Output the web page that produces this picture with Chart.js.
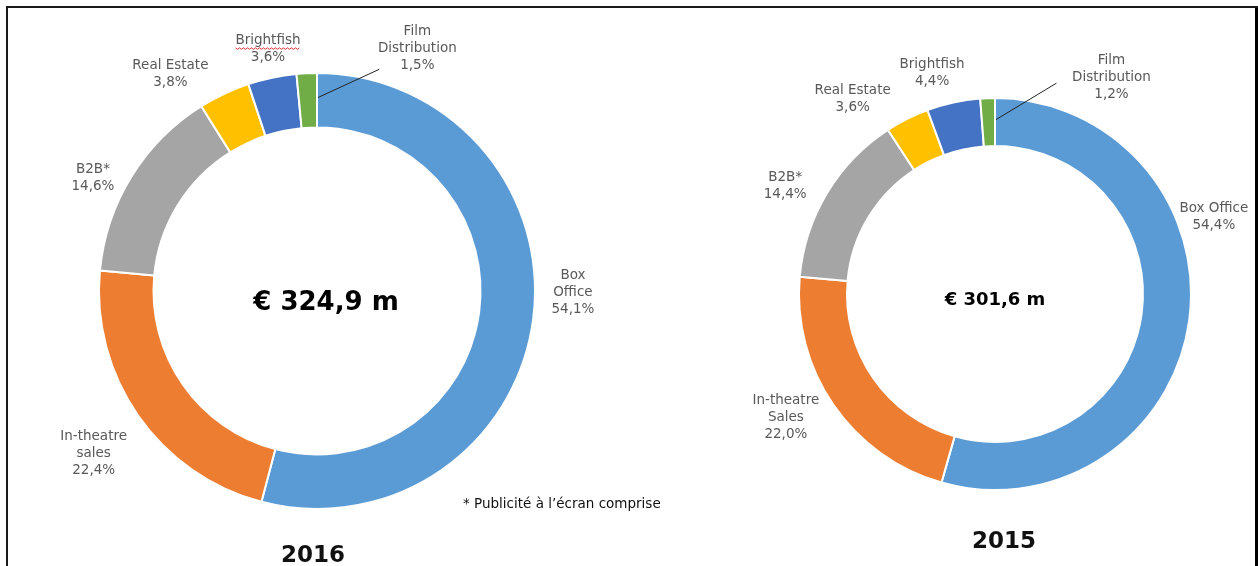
<!DOCTYPE html>
<html>
<head>
<meta charset="utf-8">
<script src="https://cdn.jsdelivr.net/npm/chart.js@4"></script>
<style>
	body { margin: 0; background: #fff; font-family: 'DejaVu Sans', sans-serif; }
	#page { position: relative; width: 1258px; height: 566px; overflow: hidden; background: #fff; }
	.box { position: absolute; top: 0; height: 566px; }
	.frame-top { position: absolute; left: 6px; top: 6px; width: 1252px; height: 2px; background: #1a1a1a; }
	.frame-left { position: absolute; left: 6px; top: 6px; width: 2px; height: 560px; background: #1a1a1a; }
	.frame-right { position: absolute; left: 1255px; top: 8px; width: 3px; height: 558px; background: #000; }
	.year { position: absolute; font-weight: bold; font-size: 23px; color: #111; transform: translateX(-50%); }
	.note { position: absolute; font-size: 13.5px; color: #111; white-space: nowrap; }
</style>
</head>
<body>
<div id="page">
	<div class="box" style="left:0;width:634px"><canvas id="chart2016"></canvas></div>
	<div class="box" style="left:634px;width:624px"><canvas id="chart2015"></canvas></div>
	<div class="frame-top"></div>
	<div class="frame-left"></div>
	<div class="frame-right"></div>
	<div class="note" style="left:463px;top:495px">* Publicité à l’écran comprise</div>
	<div class="year" style="left:313px;top:541px">2016</div>
	<div class="year" style="left:1004px;top:527px">2015</div>
</div>
<script>
// data
const labels2016 = [['Box', 'Office'], ['In-theatre', 'sales'], ['B2B*'], ['Real Estate'], ['Brightfish'], ['Film', 'Distribution']];
const values2016 = [54.1, 22.4, 14.6, 3.8, 3.6, 1.5];
const total2016 = '€ 324,9 m';

const labels2015 = [['Box Office'], ['In-theatre', 'Sales'], ['B2B*'], ['Real Estate'], ['Brightfish'], ['Film', 'Distribution']];
const values2015 = [54.4, 22.0, 14.4, 3.6, 4.4, 1.2];
const total2015 = '€ 301,6 m';

const colors = ['#5B9BD5', '#ED7D31', '#A5A5A5', '#FFC000', '#4472C4', '#70AD47'];

// label nudges (px) relative to a point 30px outside each slice
const nudge2016 = [[10, -30], [-20, 21], [-13, 17], [-41, 7], [2, 1], [112, 5]];
const nudge2015 = [[-5, -108], [-23, -5], [-16, 8], [-41, 7], [-15, 0], [125, 9]];

const pct = (v) => v.toFixed(1).replace('.', ',') + '%';

// draws slice labels, leader line and the total in the hole
const donutLabels = {
	id: 'donutLabels',
	afterDatasetsDraw(chart, args, opts) {
		const ctx = chart.ctx;
		const meta = chart.getDatasetMeta(0);
		const values = chart.data.datasets[0].data;
		ctx.save();
		ctx.font = '13.5px "DejaVu Sans", sans-serif';
		ctx.textAlign = 'center';
		ctx.textBaseline = 'middle';
		let cx = 0, cy = 0;
		meta.data.forEach((arc, i) => {
			const p = arc.getProps(['x', 'y', 'startAngle', 'endAngle', 'outerRadius', 'innerRadius'], true);
			cx = p.x; cy = p.y;
			const mid = (p.startAngle + p.endAngle) / 2;
			const r = p.outerRadius + 30;
			const ax = p.x + Math.cos(mid) * r + opts.nudge[i][0];
			const ay = p.y + Math.sin(mid) * r + opts.nudge[i][1];
			const lines = [].concat(chart.data.labels[i], pct(values[i]));
			ctx.fillStyle = '#595959';
			lines.forEach((t, k) => {
				ctx.fillText(t, ax, ay + (k - (lines.length - 1) / 2) * 17);
			});
			if (opts.wavy === i) {
				// spell-check squiggle under the first line
				const w = ctx.measureText(lines[0]).width;
				const y0 = ay - (lines.length - 1) / 2 * 17 + 7;
				ctx.strokeStyle = '#e03030';
				ctx.lineWidth = 1;
				ctx.beginPath();
				for (let x = 0; x <= w; x += 2) {
					const yy = y0 + ((x / 2) % 2 ? 1.5 : 0);
					if (x === 0) ctx.moveTo(ax - w / 2 + x, yy); else ctx.lineTo(ax - w / 2 + x, yy);
				}
				ctx.stroke();
			}
			if (opts.leader === i) {
				const lr = p.innerRadius + 0.55 * (p.outerRadius - p.innerRadius);
				ctx.strokeStyle = '#222';
				ctx.lineWidth = 1;
				ctx.beginPath();
				ctx.moveTo(p.x + Math.cos(p.endAngle) * lr + 1, p.y + Math.sin(p.endAngle) * lr);
				ctx.lineTo(ax + opts.leaderEnd[0], ay + opts.leaderEnd[1]);
				ctx.stroke();
			}
		});
		ctx.fillStyle = '#000';
		ctx.textBaseline = 'alphabetic';
		ctx.font = 'bold ' + opts.centerSize + 'px "DejaVu Sans", sans-serif';
		ctx.fillText(opts.centerText, cx + opts.centerShift[0], cy + opts.centerShift[1]);
		ctx.restore();
	}
};

function makeDonut(id, labels, values, radius, cutout, padding, labelOpts) {
	return new Chart(document.getElementById(id), {
		type: 'doughnut',
		data: {
			labels: labels,
			datasets: [{
				data: values,
				backgroundColor: colors,
				borderColor: '#fff',
				borderWidth: 2,
			}],
		},
		options: {
			responsive: true,
			maintainAspectRatio: false,
			animation: false,
			events: [],
			radius: radius,
			cutout: cutout,
			layout: { padding: padding },
			plugins: {
				legend: { display: false },
				tooltip: { enabled: false },
				donutLabels: labelOpts,
			},
		},
		plugins: [donutLabels],
	});
}

makeDonut('chart2016', labels2016, values2016, 218, '75%', { top: 16 }, {
	nudge: nudge2016,
	leader: 5,
	leaderEnd: [-38, 21],
	wavy: 4,
	centerText: total2016,
	centerSize: 26,
	centerShift: [9, 19],
});

makeDonut('chart2015', labels2015, values2015, 196, '75.5%', { top: 22, left: 98 }, {
	nudge: nudge2015,
	leader: 5,
	leaderEnd: [-55, 6],
	wavy: -1,
	centerText: total2015,
	centerSize: 18,
	centerShift: [0, 11],
});
</script>
</body>
</html>
